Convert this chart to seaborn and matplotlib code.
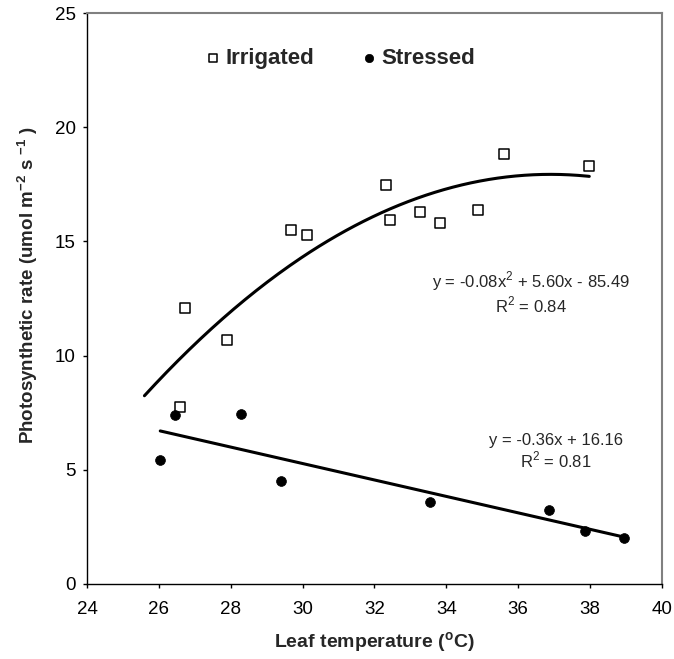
import numpy as np
import pandas as pd
import matplotlib
matplotlib.use("Agg")
import matplotlib.pyplot as plt
import seaborn as sns

#########################################################
# DATA
#########################################################

irrigated_temp = [26.60, 26.73, 27.89, 29.69, 30.13, 32.31, 32.44, 33.28, 33.82, 34.88, 35.62, 37.98]
irrigated_rate = [7.75, 12.07, 10.70, 15.52, 15.30, 17.46, 15.96, 16.31, 15.81, 16.38, 18.83, 18.32]

stressed_temp = [26.04, 26.46, 28.30, 29.41, 33.56, 36.86, 37.87, 38.94]
stressed_rate = [5.43, 7.38, 7.45, 4.52, 3.58, 3.23, 2.30, 2.01]

eq_irrigated = "y = -0.08x$^2$ + 5.60x - 85.49\nR$^2$ = 0.84"
eq_stressed = "y = -0.36x + 16.16\nR$^2$ = 0.81"

x_ticks = [24, 26, 28, 30, 32, 34, 36, 38, 40]
y_ticks = [0, 5, 10, 15, 20, 25]

# Excel trendline was forecast one unit backward
forecast_back = 1.0

#########################################################
# TRENDLINES
#########################################################

irr = pd.DataFrame({"temp": irrigated_temp, "rate": irrigated_rate})
stre = pd.DataFrame({"temp": stressed_temp, "rate": stressed_rate})

p_irr = np.polyfit(irr["temp"], irr["rate"], 2)
x_irr = np.linspace(irr["temp"].min() - forecast_back, irr["temp"].max(), 200)
fit_irr = pd.DataFrame({"temp": x_irr, "rate": np.polyval(p_irr, x_irr)})

p_str = np.polyfit(stre["temp"], stre["rate"], 1)
x_str = np.linspace(stre["temp"].min(), stre["temp"].max(), 50)
fit_str = pd.DataFrame({"temp": x_str, "rate": np.polyval(p_str, x_str)})

#########################################################
# PLOT
#########################################################

sns.set_style("ticks")
plt.rcParams["font.family"] = ["Liberation Sans", "DejaVu Sans"]
plt.rcParams["mathtext.fontset"] = "custom"
plt.rcParams["mathtext.rm"] = "Liberation Sans"
plt.rcParams["mathtext.bf"] = "Liberation Sans:bold"

fig = plt.figure(figsize=(6.74, 6.59), dpi=100)
ax = fig.add_axes([0.129, 0.114, 0.853, 0.866])

sns.lineplot(data=fit_irr, x="temp", y="rate", color="black", lw=2.2, ax=ax)
sns.lineplot(data=fit_str, x="temp", y="rate", color="black", lw=2.2, ax=ax)

sns.scatterplot(data=irr, x="temp", y="rate", marker="s", s=52,
                facecolor="white", edgecolor="black", linewidth=1.1,
                label="Irrigated", ax=ax, zorder=3)
sns.scatterplot(data=stre, x="temp", y="rate", marker="o", s=50,
                color="black", edgecolor="black", linewidth=0.5,
                label="Stressed", ax=ax, zorder=3)

ax.set_xlim(24, 40)
ax.set_ylim(0, 25)
ax.set_xticks(x_ticks)
ax.set_yticks(y_ticks)
ax.tick_params(axis="both", direction="out", length=3, width=1, colors="black", labelsize=13.5)
ax.tick_params(axis="x", pad=9)
ax.tick_params(axis="y", pad=5)

for side in ["left", "bottom"]:
    ax.spines[side].set_color("black")
    ax.spines[side].set_linewidth(1)
for side in ["top", "right"]:
    ax.spines[side].set_visible(True)
    ax.spines[side].set_color("#808080")
    ax.spines[side].set_linewidth(1.5)

ax.set_xlabel("Leaf temperature ($^{\\mathbf{o}}$C)", fontsize=14, fontweight="bold", labelpad=9)
ax.set_ylabel("Photosynthetic rate (umol m$^{\\mathbf{-2}}$ s $^{\\mathbf{-1}}$ )",
              fontsize=13.5, fontweight="bold", labelpad=11)
ax.yaxis.label.set_y(0.524)

ax.text(36.35, 12.75, eq_irrigated, ha="center", va="center", fontsize=12, linespacing=1.1)
ax.text(37.05, 5.8, eq_stressed, ha="center", va="center", fontsize=12, linespacing=1.1)

ax.legend(loc="center", bbox_to_anchor=(0.442, 0.921), ncol=2, frameon=False,
          prop={"weight": "bold", "size": 16}, handlelength=0.55, handletextpad=0.3,
          columnspacing=2.15, markerscale=0.85)

plt.savefig("out.png", dpi=100)
